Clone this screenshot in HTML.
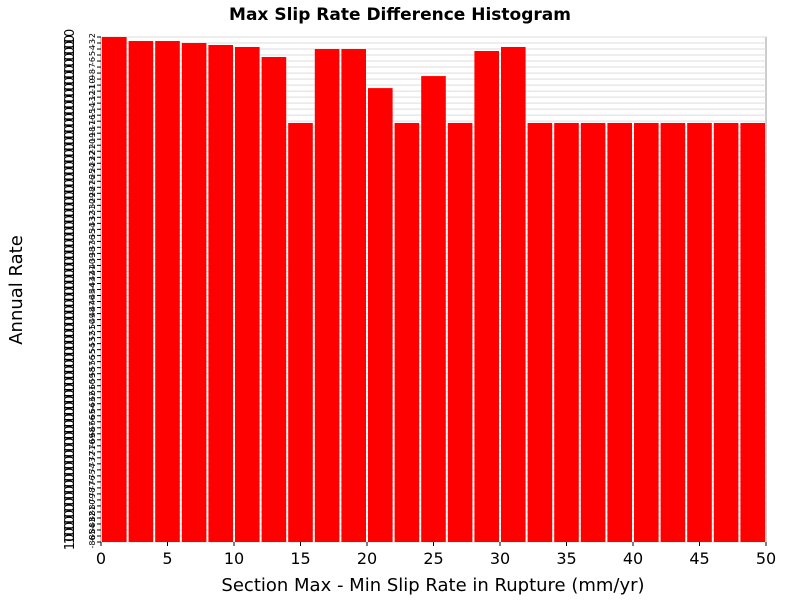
<!DOCTYPE html>
<html><head><meta charset="utf-8"><style>
body{margin:0;background:#fff;font-family:"DejaVu Sans","Liberation Sans",sans-serif}
</style></head><body>
<svg id="c" width="800" height="600" xmlns="http://www.w3.org/2000/svg"></svg>
<script>
const binCenters=[1,3,5,7,9,11,13,15,17,19,21,23,25,27,29,31,33,35,37,39,41,43,45,47,49];
const log10Values=[-2.0,-2.67,-2.67,-3.0,-3.33,-3.66,-5.33,-16.3,-4.0,-4.0,-10.5,-16.3,-8.5,-16.3,-4.33,-3.66,-16.3,-16.3,-16.3,-16.3,-16.3,-16.3,-16.3,-16.3,-16.3];
const xTicks=[0,5,10,15,20,25,30,35,40,45,50];
const yMaxExp=-2, yMinExp=-86;
const L=101,R=766,T=37,B=542;
const NS="http://www.w3.org/2000/svg";
const svg=document.getElementById('c');
const X=v=>L+(v-0)/50*(R-L);
const Y=e=>T+(yMaxExp-e)/(yMaxExp-yMinExp)*(B-T);
function el(t,a,p){const e=document.createElementNS(NS,t);for(const k in a)e.setAttribute(k,a[k]);(p||svg).appendChild(e);return e;}
const bg=el('rect',{x:L,y:T,width:R-L,height:B-T,fill:'#fff',stroke:'#999'});


for(let e=yMaxExp;e>=yMinExp;e--){
  const y=Y(e);
  const g=el('line',{x1:L,x2:R,y1:y,y2:y,stroke:'#ddd','stroke-width':1});
  
  
  const tk=el('line',{x1:L-4,x2:L,y1:y,y2:y,stroke:'#000'});
  
  
  const t=el('text',{x:0,y:0,'font-size':13,transform:`translate(74,${y}) rotate(-90)`,'text-anchor':'middle'});
  t.textContent='10';
  
  
  const s=el('text',{x:0,y:0,'font-size':8,transform:`translate(95,${y}) rotate(-90)`,'text-anchor':'middle'});
  s.textContent=String(e);
  
  
}
binCenters.forEach((c,i)=>{
  const x0=X(c-1)+1,x1=X(c+1)-1,y=Y(log10Values[i]);
  const b=el('rect',{x:x0,y:y,width:x1-x0,height:B-y,fill:'#ff0000'});
  
  
});
xTicks.forEach(v=>{
  const tk=el('line',{x1:X(v),x2:X(v),y1:B,y2:B+4,stroke:'#000'});
  
  
  const t=el('text',{x:X(v),y:B+22,'font-size':16,'text-anchor':'middle'});
  t.textContent=v;
  
  
});
const ti=el('text',{x:400,y:20,'font-size':17,'font-weight':'bold','text-anchor':'middle'});
ti.textContent='Max Slip Rate Difference Histogram';


const xt=el('text',{x:433,y:591,'font-size':18,'text-anchor':'middle'});
xt.textContent='Section Max - Min Slip Rate in Rupture (mm/yr)';


const yt=el('text',{x:0,y:0,'font-size':18,'text-anchor':'middle',transform:'translate(22,290) rotate(-90)'});
yt.textContent='Annual Rate';


</script>
</body></html>
